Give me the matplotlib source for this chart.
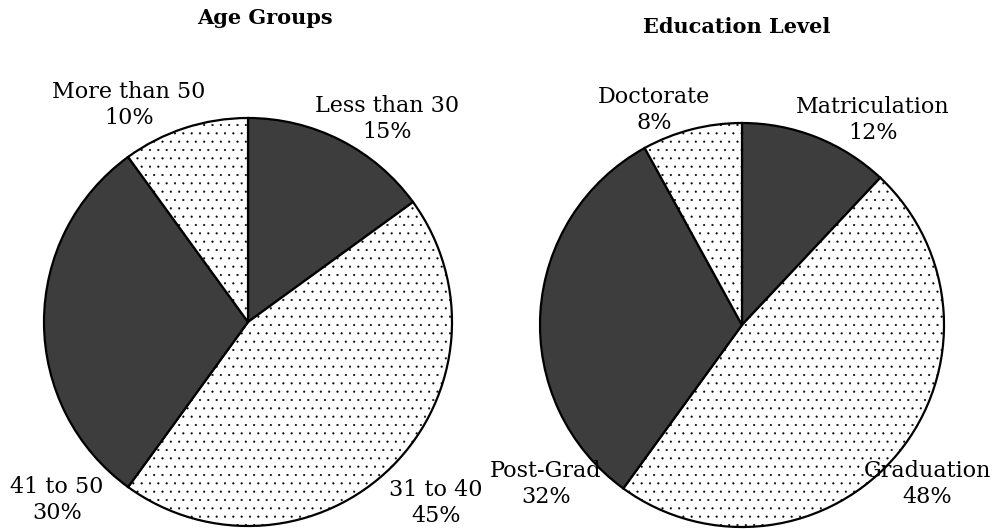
import matplotlib.pyplot as plt

# data
age_groups = ['Less than 30', '31 to 40', '41 to 50', 'More than 50']
age_share = [15, 45, 30, 10]

edu_levels = ['Matriculation', 'Graduation', 'Post-Grad', 'Doctorate']
edu_share = [12, 48, 32, 8]

plt.rcParams['font.family'] = ['DejaVu Serif']
plt.rcParams['hatch.linewidth'] = 0.3

H = 529
fig = plt.figure(figsize=(9.97, 5.29), dpi=100)
ax = fig.add_axes([0, 0, 1, 1])

dark = '#3d3d3d'
light = 'white'


def draw_pie(values, labels, center, radius, label_pos, title, title_pos):
    colors = [dark, light, dark, light]
    wedges, _ = ax.pie(values, startangle=90, counterclock=False,
                       center=(center[0], H - center[1]), radius=radius,
                       colors=colors,
                       wedgeprops=dict(edgecolor='black', linewidth=1.6))
    for w, c in zip(wedges, colors):
        if c == light:
            w.set_hatch('..')
    for lab, val, (x, y) in zip(labels, values, label_pos):
        ax.text(x, H - y, f'{lab}\n{val}%', ha='center', va='center',
                fontsize=16, linespacing=1.25)
    ax.text(title_pos[0], H - title_pos[1], title, ha='center', va='center',
            fontsize=15, fontweight='bold')


draw_pie(age_share, age_groups, (248, 322), 204,
         [(387, 119), (436, 503), (57, 500), (129, 105)],
         'Age Groups', (265, 18))
draw_pie(edu_share, edu_levels, (742, 325), 202,
         [(873, 120), (927, 484), (546, 484), (654, 110)],
         'Education Level', (737, 27))

ax.set_xlim(0, 997)
ax.set_ylim(0, H)
ax.set_aspect('equal')
ax.axis('off')

fig.savefig('out.png', dpi=100)
